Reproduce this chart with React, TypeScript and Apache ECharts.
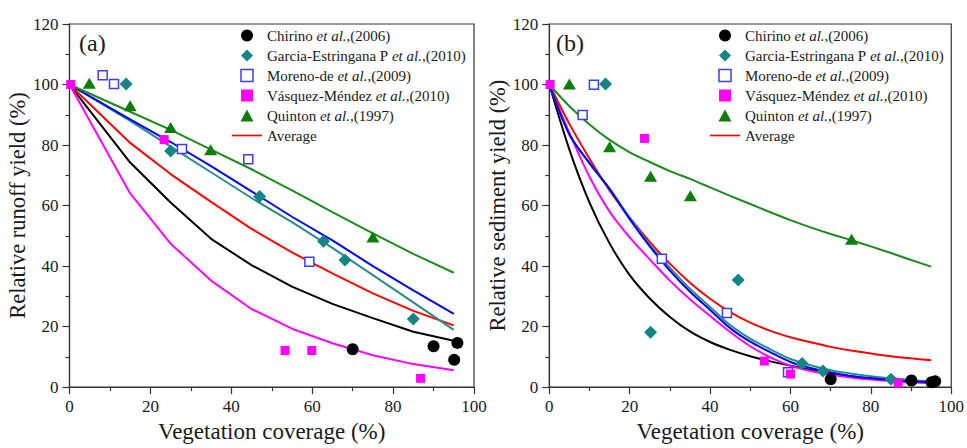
import React, { useEffect, useRef } from "react";
import * as echarts from "echarts";

// ---------- data ----------
const NAME_CHIRINO = "Chirino et al.,(2006)";
const NAME_GARCIA = "Garcia-Estringana P et al.,(2010)";
const NAME_MORENO = "Moreno-de et al.,(2009)";
const NAME_VASQUEZ = "Vásquez-Méndez et al.,(2010)";
const NAME_QUINTON = "Quinton et al.,(1997)";
const NAME_AVERAGE = "Average";

const xTicks = [0, 20, 40, 60, 80, 100];
const yTicks = [0, 20, 40, 60, 80, 100, 120];

// Panel (a) runoff: observed points [coverage, relative yield]
const chirinoA = [[70, 12.5], [90, 13.5], [95.9, 14.6], [95.1, 9.0]];
const garciaA = [[14, 100.2], [25, 78], [47, 63], [62.8, 48.2], [68.1, 42], [85, 22.5]];
const morenoA = [[8.2, 103.1], [11, 100.2], [27.8, 78.7], [44.2, 75.3], [59.3, 41.4]];
const vasquezA = [[0.3, 100], [23.4, 81.8], [53.3, 12.1], [59.9, 12.1], [86.8, 2.9]];
const quintonA = [[4.9, 100.4], [15, 93], [25, 85.8], [34.9, 78.4], [75, 49.6]];

// Panel (a) fitted curves
const fitXA = [0, 15, 25, 35, 45, 55, 65, 75, 85, 95];
const chirinoFitA = [100, 74.2, 61, 49, 40.3, 33.2, 27.5, 22.8, 18.3, 15.3];
const garciaFitA = [100, 88, 79.5, 71, 62.5, 54.5, 46, 37, 28, 18.9];
const morenoFitA = [100, 88.5, 81, 73, 64.7, 56.3, 48.5, 40, 32, 24.2];
const vasquezFitA = [100, 64, 47.4, 35.2, 25.8, 19.3, 14.5, 10.5, 7.6, 5.6];
const quintonFitA = [100, 91, 85, 78.5, 72, 65, 57.8, 50.8, 44, 37.8];
const averageFitA = [100, 80.7, 70.4, 61.2, 52.3, 44.5, 37.6, 31, 25.2, 20.4];

// Panel (b) sediment: observed points
const chirinoB = [[70, 2.6], [90.1, 2.2], [95.1, 1.6], [96, 1.9]];
const garciaB = [[14, 100.2], [25.2, 18.1], [47, 35.4], [62.9, 7.8], [68.1, 5.3], [85, 2.6]];
const morenoB = [[8.3, 89.9], [11.1, 99.9], [28, 42.4], [44.2, 24.5], [59.4, 4.9]];
const vasquezB = [[0.2, 100], [23.7, 82.2], [53.5, 8.6], [60, 4.3], [86.8, 1.3]];
const quintonB = [[5, 100.2], [15, 79.4], [25.2, 69.7], [35.1, 63.2], [75.2, 48.9]];

// Panel (b) fitted curves
const fitXB = [0, 5, 10, 15, 20, 25, 30, 35, 40, 45, 50, 55, 60, 65, 70, 75, 80, 85, 90, 95];
const chirinoFitB = [100, 78.5, 61, 47.5, 37, 29.3, 23.2, 18.4, 14.9, 12.3, 10.2, 8.5, 7.1, 5.7, 4.5, 3.6, 2.9, 2.4, 2.0, 1.6];
const garciaFitB = [100, 83.5, 74, 65.5, 56, 47, 39.5, 32.5, 26.5, 20.5, 16, 12.5, 9.3, 7.2, 5.6, 4.5, 3.6, 2.9, 2.3, 1.9];
const morenoFitB = [100, 83.5, 74, 65.5, 55.5, 46.5, 38.5, 31.5, 25.5, 19.5, 15, 11.5, 8.3, 6.3, 4.8, 3.7, 2.9, 2.3, 1.9, 1.6];
const vasquezFitB = [100, 84, 69.5, 58, 49.5, 42.2, 35.2, 29, 23.5, 18.2, 13.5, 9.8, 7, 5.3, 4.1, 3.2, 2.5, 2, 1.6, 1.3];
const quintonFitB = [100, 92.8, 86.8, 81.7, 77.6, 74.4, 71.4, 68.8, 66, 63.2, 60.5, 57.8, 55.2, 52.8, 50.6, 48.6, 46.5, 44.3, 42, 39.8];
const averageFitB = [100, 87, 75.5, 65, 56, 48, 40.8, 34.5, 29.2, 24.8, 21.3, 18.6, 16.5, 14.8, 13.3, 12.1, 11.1, 10.2, 9.5, 8.9];

// ---------- styles ----------
const FONT = "'Liberation Serif'";
const TXT = "#1a1a1a";
const AXC = "#333";
const C_BLACK = "#000000";
const C_TEAL = "#138585";
const C_TEAL_LINE = "#2a8c8c";
const C_BLUE = "#0000ff";
const C_BLUE_MK = "#3c3cff";
const C_MAG = "#ff00ff";
const C_GREEN = "#0a7d0a";
const C_GREEN_LINE = "#1c8a1c";
const C_RED = "#ff0000";

function pair(xs: number[], ys: number[]) {
  return xs.map((x, i) => [x, ys[i]]);
}

function makeXAxis(gridIndex: number) {
  return {
    gridIndex,
    type: "value",
    min: 0,
    max: 100,
    interval: 20,
    name: "Vegetation coverage (%)",
    nameLocation: "middle",
    nameGap: 30,
    nameTextStyle: { fontFamily: FONT, fontSize: 23, color: TXT },
    axisLine: { show: true, onZero: false, lineStyle: { color: AXC, width: 1.2 } },
    axisTick: { show: true, inside: false, length: 7, lineStyle: { color: AXC, width: 1.2 } },
    minorTick: { show: true, splitNumber: 2, length: 4, lineStyle: { color: AXC, width: 1.2 } },
    axisLabel: {
      fontFamily: FONT,
      fontSize: 17,
      color: TXT,
      margin: 11,
      formatter: (v: number) => (xTicks.includes(v) ? String(v) : ""),
    },
    splitLine: { show: false },
  };
}

function makeYAxis(gridIndex: number, name: string) {
  return {
    gridIndex,
    type: "value",
    min: 0,
    max: 120,
    interval: 20,
    name,
    nameLocation: "middle",
    nameGap: 33,
    nameTextStyle: { fontFamily: FONT, fontSize: 22.5, color: TXT },
    axisLine: { show: true, onZero: false, lineStyle: { color: AXC, width: 1.2 } },
    axisTick: { show: true, inside: false, length: 7, lineStyle: { color: AXC, width: 1.2 } },
    minorTick: { show: true, splitNumber: 2, length: 4, lineStyle: { color: AXC, width: 1.2 } },
    axisLabel: {
      fontFamily: FONT,
      fontSize: 17,
      color: TXT,
      margin: 11,
      formatter: (v: number) => (yTicks.includes(v) ? String(v) : ""),
    },
    splitLine: { show: false },
  };
}

function fitLine(name: string, idx: number, xs: number[], ys: number[], color: string, smooth: number) {
  return {
    name,
    type: "line",
    xAxisIndex: idx,
    yAxisIndex: idx,
    data: pair(xs, ys),
    showSymbol: false,
    symbol: "none",
    smooth: smooth > 0 ? smooth : false,
    lineStyle: { color, width: 2 },
    itemStyle: { color },
    z: 2,
    silent: true,
  };
}

function scatter(name: string, idx: number, data: number[][], kind: string) {
  const base: any = {
    name,
    type: "scatter",
    xAxisIndex: idx,
    yAxisIndex: idx,
    data,
    z: 5,
    silent: true,
  };
  if (kind === "circle") {
    base.symbol = "circle";
    base.symbolSize = 12;
    base.itemStyle = { color: C_BLACK, opacity: 1 };
  } else if (kind === "diamond") {
    base.symbol = "diamond";
    base.symbolSize = [13, 13];
    base.itemStyle = { color: C_TEAL, opacity: 1 };
  } else if (kind === "open") {
    base.symbol = "rect";
    base.symbolSize = 9;
    base.itemStyle = { color: "#ffffff", borderColor: C_BLUE_MK, borderWidth: 1.5, opacity: 1 };
  } else if (kind === "square") {
    base.symbol = "rect";
    base.symbolSize = 9;
    base.itemStyle = { color: C_MAG, opacity: 1 };
  } else {
    base.symbol = "triangle";
    base.symbolSize = [13, 11];
    base.itemStyle = { color: C_GREEN, opacity: 1 };
  }
  return base;
}

function panelSeries(idx: number, pts: number[][][], fitX: number[], fits: number[][], smooth: number) {
  const tag = idx === 0 ? " (a)" : " (b)";
  return [
    fitLine("Chirino fit" + tag, idx, fitX, fits[0], C_BLACK, smooth),
    fitLine("Vasquez fit" + tag, idx, fitX, fits[3], C_MAG, smooth),
    fitLine(NAME_AVERAGE, idx, fitX, fits[5], C_RED, smooth),
    fitLine("Garcia fit" + tag, idx, fitX, fits[1], C_TEAL_LINE, smooth),
    fitLine("Moreno fit" + tag, idx, fitX, fits[2], C_BLUE, smooth),
    fitLine("Quinton fit" + tag, idx, fitX, fits[4], C_GREEN_LINE, smooth),
    scatter(NAME_CHIRINO, idx, pts[0], "circle"),
    scatter(NAME_GARCIA, idx, pts[1], "diamond"),
    scatter(NAME_MORENO, idx, pts[2], "open"),
    scatter(NAME_QUINTON, idx, pts[4], "triangle"),
    scatter(NAME_VASQUEZ, idx, pts[3], "square"),
  ];
}

const legendData = [
  { name: NAME_CHIRINO, icon: "circle", itemStyle: { color: C_BLACK, borderWidth: 0 } },
  { name: NAME_GARCIA, icon: "path://M6,0L12,6L6,12L0,6Z", itemStyle: { color: C_TEAL, borderWidth: 0 } },
  { name: NAME_MORENO, icon: "path://M1,1H11V11H1Z", itemStyle: { color: "#ffffff", borderColor: C_BLUE_MK, borderWidth: 1.5 } },
  { name: NAME_VASQUEZ, icon: "path://M1,1H11V11H1Z", itemStyle: { color: C_MAG, borderWidth: 0 } },
  { name: NAME_QUINTON, icon: "path://M6,0L12,11L0,11Z", itemStyle: { color: C_GREEN, borderWidth: 0 } },
  { name: NAME_AVERAGE, icon: "path://M0,0H36V2H0Z", itemStyle: { color: C_RED, borderWidth: 0 } },
];

function legendFormatter(name: string) {
  const key = "et al.";
  const i = name.indexOf(key);
  if (i < 0) return "{n|" + name + "}";
  return "{n|" + name.slice(0, i) + "}{i|" + key + "}{n|" + name.slice(i + key.length) + "}";
}

function makeLegend(left: number) {
  return {
    orient: "vertical",
    left,
    top: 28,
    padding: 0,
    itemWidth: 30,
    itemHeight: 12,
    itemGap: 5,
    symbolKeepAspect: true,
    selectedMode: false,
    data: legendData,
    formatter: legendFormatter,
    textStyle: {
      fontFamily: FONT,
      fontSize: 15,
      color: TXT,
      rich: {
        n: { fontFamily: FONT, fontSize: 15, color: TXT, lineHeight: 16 },
        i: { fontFamily: FONT, fontSize: 15, color: TXT, fontStyle: "italic", lineHeight: 16 },
      },
    },
  };
}

export default function App() {
  const ref = useRef<HTMLDivElement>(null);

  useEffect(() => {
    if (!ref.current) return;
    const chart = echarts.init(ref.current, null, { renderer: "svg" });
    const option: any = {
      animation: false,
      backgroundColor: "#ffffff",
      textStyle: { fontFamily: FONT },
      title: [
        { text: "(a)", left: 79, top: 31, padding: 0, textStyle: { fontFamily: FONT, fontSize: 24, fontWeight: "normal", color: TXT } },
        { text: "(b)", left: 556, top: 31, padding: 0, textStyle: { fontFamily: FONT, fontSize: 24, fontWeight: "normal", color: TXT } },
      ],
      grid: [
        { left: 69.5, top: 24, width: 404.5, height: 369, show: true, borderColor: AXC, borderWidth: 1.2, backgroundColor: "transparent" },
        { left: 549.3, top: 24, width: 404, height: 369.5, show: true, borderColor: AXC, borderWidth: 1.2, backgroundColor: "transparent" },
      ],
      xAxis: [makeXAxis(0), makeXAxis(1)],
      yAxis: [makeYAxis(0, "Relative runoff yield (%)"), makeYAxis(1, "Relative sediment yield (%)")],
      legend: [makeLegend(232), makeLegend(710)],
      series: [
        ...panelSeries(
          0,
          [chirinoA, garciaA, morenoA, vasquezA, quintonA],
          fitXA,
          [chirinoFitA, garciaFitA, morenoFitA, vasquezFitA, quintonFitA, averageFitA],
          0,
        ),
        ...panelSeries(
          1,
          [chirinoB, garciaB, morenoB, vasquezB, quintonB],
          fitXB,
          [chirinoFitB, garciaFitB, morenoFitB, vasquezFitB, quintonFitB, averageFitB],
          0.3,
        ),
      ],
    };
    chart.setOption(option);
    return () => chart.dispose();
  }, []);

  return (
    <div
      ref={ref}
      style={{ position: "fixed", left: 0, top: 0, width: 967, height: 448, background: "#fff" }}
    />
  );
}
